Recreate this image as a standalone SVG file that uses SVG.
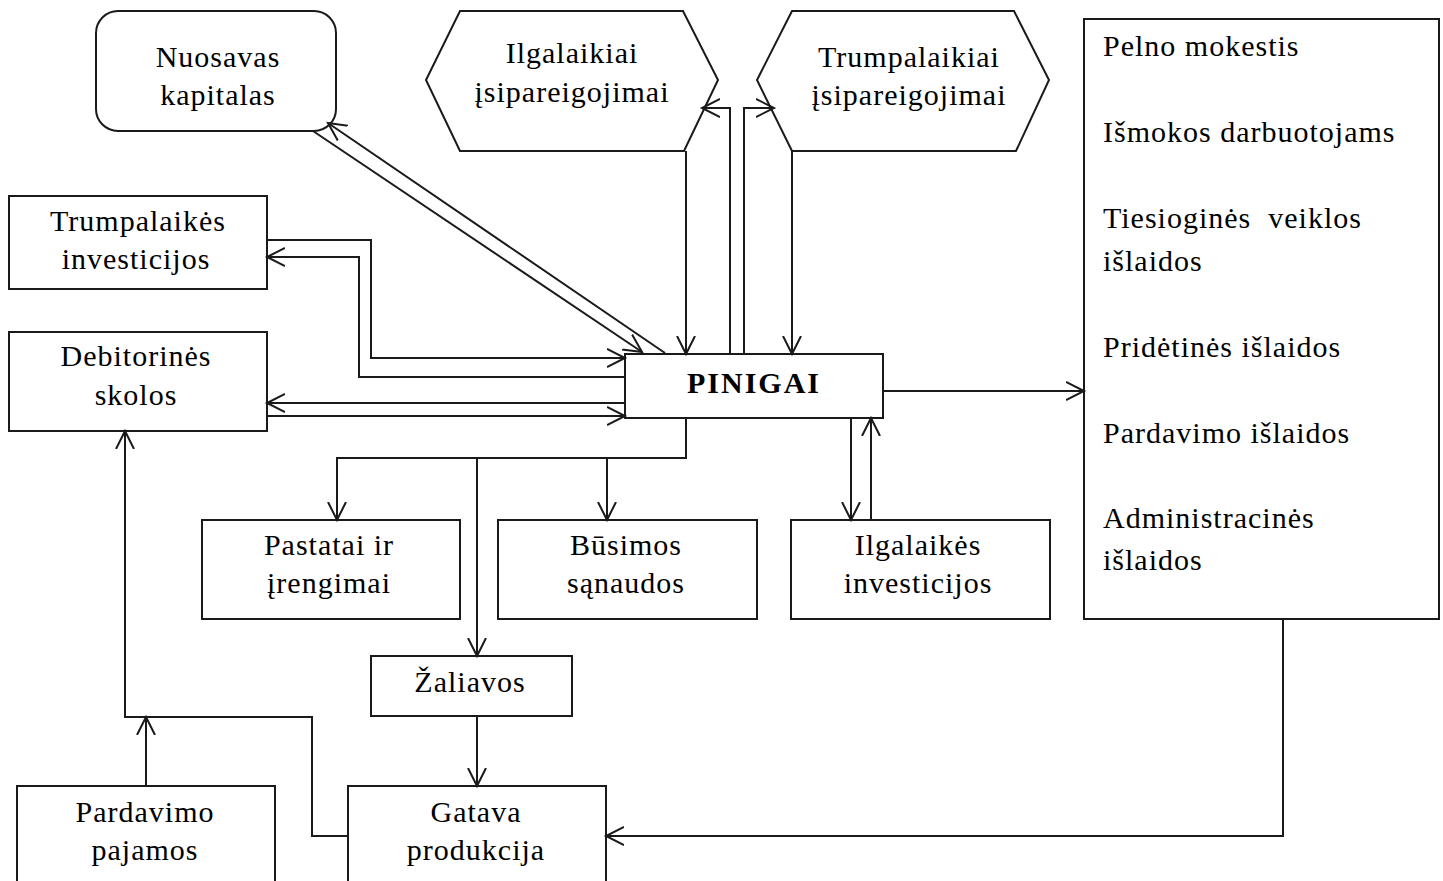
<svg xmlns="http://www.w3.org/2000/svg" width="1443" height="881" viewBox="0 0 1443 881">
<style>
.box{fill:#fff;stroke:#1a1a1a;stroke-width:2}
.t{font-family:"Liberation Serif","Times New Roman",serif;font-size:30px;fill:#000;letter-spacing:1px;text-anchor:middle}
.l{font-family:"Liberation Serif","Times New Roman",serif;font-size:30px;fill:#000;letter-spacing:1px;white-space:pre}
.b{font-weight:bold;letter-spacing:2px}
.c{fill:none;stroke:#1a1a1a;stroke-width:2}
.a{marker-end:url(#ah)}
</style>
<defs>
<marker id="ah" markerWidth="22" markerHeight="22" refX="18" refY="10" orient="auto" markerUnits="userSpaceOnUse">
<path d="M0,1 L18,10 L0,19" fill="none" stroke="#1a1a1a" stroke-width="2"/>
</marker>
</defs>
<rect width="1443" height="881" fill="#fff"/>

<g id="nuosavas">
<rect class="box" x="96" y="11" width="240" height="120" rx="22"/>
<text class="t" x="218" y="67">Nuosavas</text>
<text class="t" x="218" y="105">kapitalas</text>
</g>
<g id="ilgalaikiai-isip">
<polygon class="box" points="460,11 683,11 718,80 684,151 460,151 426,80"/>
<text class="t" x="572" y="63">Ilgalaikiai</text>
<text class="t" x="572" y="102">įsipareigojimai</text>
</g>
<g id="trumpalaikiai-isip">
<polygon class="box" points="792,11 1014,11 1049,80 1016,151 792,151 757,80"/>
<text class="t" x="909" y="67">Trumpalaikiai</text>
<text class="t" x="909" y="105">įsipareigojimai</text>
</g>
<g id="islaidos">
<rect class="box" x="1084" y="19" width="355" height="600"/>
<text class="l" x="1103" y="56">Pelno mokestis</text>
<text class="l" x="1103" y="142">Išmokos darbuotojams</text>
<text class="l" x="1103" y="228">Tiesioginės  veiklos</text>
<text class="l" x="1103" y="271">išlaidos</text>
<text class="l" x="1103" y="357">Pridėtinės išlaidos</text>
<text class="l" x="1103" y="443">Pardavimo išlaidos</text>
<text class="l" x="1103" y="528">Administracinės</text>
<text class="l" x="1103" y="570">išlaidos</text>
</g>
<g id="trumpalaikes-inv">
<rect class="box" x="9" y="196" width="258" height="93"/>
<text class="t" x="138" y="231">Trumpalaikės</text>
<text class="t" x="136" y="269">investicijos</text>
</g>
<g id="debitorines">
<rect class="box" x="9" y="332" width="258" height="99"/>
<text class="t" x="136" y="366">Debitorinės</text>
<text class="t" x="136" y="405">skolos</text>
</g>
<g id="pinigai">
<rect class="box" x="625" y="354" width="258" height="64"/>
<text class="t b" x="754" y="393">PINIGAI</text>
</g>
<g id="pastatai">
<rect class="box" x="202" y="520" width="258" height="99"/>
<text class="t" x="329" y="555">Pastatai ir</text>
<text class="t" x="329" y="593">įrengimai</text>
</g>
<g id="busimos">
<rect class="box" x="498" y="520" width="259" height="99"/>
<text class="t" x="626" y="555">Būsimos</text>
<text class="t" x="626" y="593">sąnaudos</text>
</g>
<g id="ilgalaikes-inv">
<rect class="box" x="791" y="520" width="259" height="99"/>
<text class="t" x="918" y="555">Ilgalaikės</text>
<text class="t" x="918" y="593">investicijos</text>
</g>
<g id="zaliavos">
<rect class="box" x="371" y="656" width="201" height="60"/>
<text class="t" x="470" y="692">Žaliavos</text>
</g>
<g id="pardavimo-pajamos">
<rect class="box" x="17" y="786" width="258" height="110"/>
<text class="t" x="145" y="822">Pardavimo</text>
<text class="t" x="145" y="860">pajamos</text>
</g>
<g id="gatava">
<rect class="box" x="348" y="786" width="258" height="110"/>
<text class="t" x="476" y="822">Gatava</text>
<text class="t" x="476" y="860">produkcija</text>
</g>

<g id="connectors">
<path class="c a" d="M665,353 L328,123"/>
<path class="c a" d="M313,131 L642,352"/>
<path class="c a" d="M686,151 V354"/>
<path class="c a" d="M730,354 V108 H702"/>
<path class="c a" d="M744,354 V108 H774"/>
<path class="c a" d="M792,151 V354"/>
<path class="c a" d="M267,240 H371 V358 H625"/>
<path class="c a" d="M625,377 H359 V257 H267"/>
<path class="c a" d="M625,403 H267"/>
<path class="c a" d="M267,416 H625"/>
<path class="c a" d="M883,391 H1084"/>
<path class="c a" d="M851,418 V520"/>
<path class="c a" d="M871,520 V418"/>
<path class="c a" d="M686,418 V458 H337 V520"/>
<path class="c a" d="M607,458 V520"/>
<path class="c a" d="M477,458 V656"/>
<path class="c a" d="M477,716 V786"/>
<path class="c a" d="M146,786 V717"/>
<path class="c a" d="M348,836 H312 V717 H125 V431"/>
<path class="c a" d="M1283,619 V836 H606"/>
</g>
</svg>
